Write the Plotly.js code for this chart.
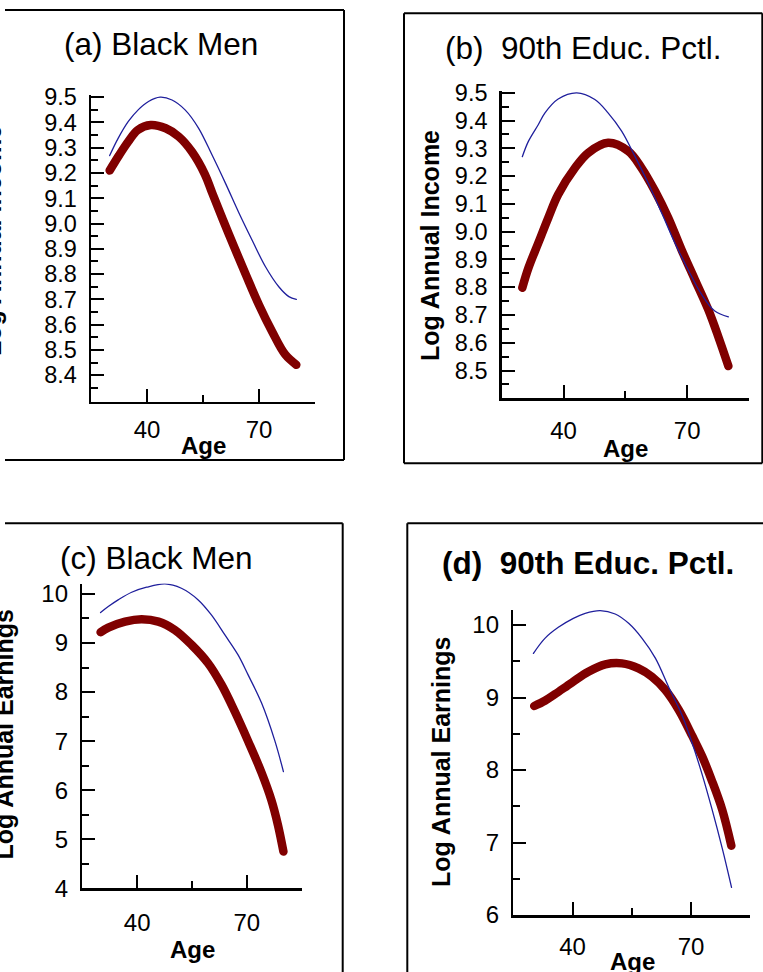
<!DOCTYPE html>
<html><head><meta charset="utf-8">
<script src="https://cdn.plot.ly/plotly-3.0.1.min.js"></script>
<style>
html,body{margin:0;padding:0;background:#fff;}
#chart{width:763px;height:972px;}
.scatterlayer .js-line{stroke-linecap:round !important;stroke-linejoin:round !important;}
</style></head><body><div id="chart"></div><script>
// ---------- data ----------
const ageA_red  = [30, 32.5, 35, 37.5, 41, 45, 48.5, 52, 55.5, 57.5, 62, 66.5, 70, 73.5, 77, 80];
const valA_red  = [9.21, 9.27, 9.325, 9.37, 9.39, 9.377, 9.344, 9.285, 9.195, 9.12, 8.955, 8.797, 8.678, 8.573, 8.482, 8.441];
const ageA_blue = [30, 32.3, 35, 37.7, 40.4, 43.5, 46.7, 50.2, 53.8, 57.4, 61, 64.6, 68.2, 71.7, 75.3, 78, 80];
const valA_blue = [9.269, 9.338, 9.404, 9.451, 9.483, 9.5, 9.489, 9.45, 9.378, 9.272, 9.16, 9.043, 8.933, 8.83, 8.75, 8.711, 8.70];

const ageB_red  = [30, 31.5, 33.9, 36.3, 38.7, 42.8, 46, 50.8, 55.7, 58.9, 62.2, 65.4, 68.6, 71.85, 75.1, 77.5, 80];
const valB_red  = [8.798, 8.87, 8.96, 9.05, 9.134, 9.23, 9.284, 9.32, 9.29, 9.23, 9.146, 9.05, 8.936, 8.828, 8.72, 8.624, 8.516];
const ageB_blue = [30, 31.5, 33.9, 35.5, 38.7, 43.2, 47.6, 50.8, 54.1, 57.3, 60.5, 63.8, 67, 70.2, 73.5, 76.7, 80];
const valB_blue = [9.27, 9.326, 9.386, 9.428, 9.478, 9.5, 9.476, 9.428, 9.362, 9.272, 9.176, 9.068, 8.96, 8.864, 8.774, 8.714, 8.693];

const ageC_red  = [30, 32.1, 36.7, 41.2, 45.8, 50.3, 54.9, 59.4, 63.1, 66.7, 70.4, 74, 76.7, 78.5, 80];
const valC_red  = [9.22, 9.314, 9.436, 9.484, 9.436, 9.266, 8.961, 8.587, 8.145, 7.602, 6.99, 6.36, 5.80, 5.292, 4.75];
const ageC_blue = [30, 32.1, 34.8, 38.5, 42.6, 47.6, 52.1, 56.7, 60.3, 64, 67.6, 70.35, 74, 77.6, 80];
const valC_blue = [9.62, 9.742, 9.878, 10.034, 10.136, 10.204, 10.115, 9.878, 9.572, 9.164, 8.757, 8.349, 7.78, 7.02, 6.379];

const ageD_red  = [30.3, 33, 35.6, 39.8, 44, 48.3, 52.5, 56.7, 60.1, 63.5, 66.9, 70.3, 72.8, 75.3, 77.9, 80.2];
const valD_red  = [8.883, 8.956, 9.048, 9.205, 9.356, 9.457, 9.471, 9.402, 9.287, 9.103, 8.828, 8.47, 8.19, 7.85, 7.45, 6.956];
const ageD_blue = [30.1, 33, 36.4, 40.2, 43.2, 47, 50.8, 54.2, 57.6, 61, 64.3, 67.7, 70.3, 72.8, 75.3, 77.9, 80.25];
const valD_blue = [9.609, 9.816, 9.968, 10.092, 10.161, 10.198, 10.152, 10.023, 9.816, 9.54, 9.149, 8.759, 8.368, 7.94, 7.46, 6.92, 6.382];

const xTickLabels = ['40', '70'];
const xMinorTicks = [25, 55, 85];
const yTickLabelsA = ['9.5','9.4','9.3','9.2','9.1','9.0','8.9','8.8','8.7','8.6','8.5','8.4'];
const yTickLabelsB = ['9.5','9.4','9.3','9.2','9.1','9.0','8.9','8.8','8.7','8.6','8.5'];
const yTickLabelsC = ['10','9','8','7','6','5','4'];
const yTickLabelsD = ['10','9','8','7','6'];

const titles = ['(a) Black Men', '(b)\u00a0 90th Educ. Pctl.', '(c) Black Men', '<b>(d)\u00a0 90th Educ. Pctl.</b>'];
const yTitles = ['Log Annual Income', 'Log Annual Income', 'Log Annual Earnings', 'Log Annual Earnings'];
const xTitle = 'Age';

// ---------- layout helpers ----------
const W = 763, H = 972;
const F = 'Liberation Sans, Arial, Helvetica, sans-serif';
const RED = '#800000', BLUE = '#1f1f9c';
const fx = p => p / W, fy = p => 1 - p / H;

function xAxis(l, r, anchor, standoff) {
  return {
    domain: [fx(l), fx(r)], range: [25, 85], anchor: anchor,
    showline: true, linecolor: '#000', linewidth: 2.5, mirror: false,
    ticks: 'inside', ticklen: 13, tickwidth: 2, tickcolor: '#000',
    tickmode: 'array', tickvals: xTickLabels.map(Number), ticktext: xTickLabels,
    tickfont: {family: F, size: 24, color: '#000'}, ticklabelstandoff: standoff,
    minor: {tickmode: 'array', tickvals: xMinorTicks, ticks: 'inside', ticklen: 7, tickwidth: 2, tickcolor: '#000'},
    showgrid: false, zeroline: false, fixedrange: true
  };
}
function yAxis(top, bottom, range, labels, half, anchor, fs, standoff) {
  const vals = labels.map(Number);
  const minor = vals.map(v => +(v - half).toFixed(3)).filter(v => v > range[0]);
  return {
    domain: [fy(bottom), fy(top)], range: range, anchor: anchor,
    showline: true, linecolor: '#000', linewidth: 2.5, mirror: false,
    ticks: 'inside', ticklen: 13, tickwidth: 2, tickcolor: '#000',
    tickmode: 'array', tickvals: vals, ticktext: labels,
    tickfont: {family: F, size: fs, color: '#000'}, ticklabelstandoff: standoff,
    minor: {tickmode: 'array', tickvals: minor, ticks: 'inside', ticklen: 7, tickwidth: 2, tickcolor: '#000'},
    showgrid: false, zeroline: false, fixedrange: true
  };
}
function line(x, y, color, width, xa, ya) {
  return {x: x, y: y, type: 'scatter', mode: 'lines', xaxis: xa, yaxis: ya, hoverinfo: 'skip',
          line: {color: color, width: width, shape: 'spline', smoothing: 1}};
}

const data = [
  line(ageA_red, valA_red, RED, 8.5, 'x', 'y'),
  line(ageA_blue, valA_blue, BLUE, 1.3, 'x', 'y'),
  line(ageB_red, valB_red, RED, 8.5, 'x2', 'y2'),
  line(ageB_blue, valB_blue, BLUE, 1.3, 'x2', 'y2'),
  line(ageC_red, valC_red, RED, 8.5, 'x3', 'y3'),
  line(ageC_blue, valC_blue, BLUE, 1.3, 'x3', 'y3'),
  line(ageD_red, valD_red, RED, 8.5, 'x4', 'y4'),
  line(ageD_blue, valD_blue, BLUE, 1.3, 'x4', 'y4')
];

function ann(text, x, y, size, angle) {
  return {text: text, xref: 'paper', yref: 'paper', x: fx(x), y: fy(y), xanchor: 'center', yanchor: 'middle',
          showarrow: false, textangle: angle || 0, font: {family: F, size: size, color: '#000'}};
}
function seg(x0, y0, x1, y1) {
  return {type: 'line', xref: 'paper', yref: 'paper', x0: fx(x0), y0: fy(y0), x1: fx(x1), y1: fy(y1),
          line: {color: '#000', width: 2}};
}

const layout = {
  width: W, height: H, margin: {l: 0, r: 0, t: 0, b: 0},
  paper_bgcolor: '#fff', plot_bgcolor: 'rgba(0,0,0,0)', showlegend: false,
  font: {family: F, color: '#000'},
  xaxis:  xAxis(91, 315, 'y', 5),
  yaxis:  yAxis(95.2, 401.7, [8.295, 9.508], yTickLabelsA, 0.05, 'x', 23.5, 7),
  xaxis2: xAxis(501.7, 749, 'y2', 9),
  yaxis2: yAxis(90.6, 398.3, [8.4, 9.508], yTickLabelsB, 0.05, 'x2', 23.5, 7),
  xaxis3: xAxis(82.3, 301.7, 'y3', 11),
  yaxis3: yAxis(583.6, 888.3, [4, 10.21], yTickLabelsC, 0.5, 'x3', 24, 7),
  xaxis4: xAxis(513.3, 750.3, 'y4', 9),
  yaxis4: yAxis(609.8, 915, [6, 10.21], yTickLabelsD, 0.5, 'x4', 24, 7),
  annotations: [
    ann(titles[0], 161, 44, 31.5),
    ann(titles[1], 583.3, 48.3, 31.5),
    ann(titles[2], 156.3, 557.5, 31.5),
    ann(titles[3], 587.5, 562.8, 31.5),
    ann('<b>' + yTitles[0] + '</b>', -8, 241, 25, -90),
    ann('<b>' + yTitles[1] + '</b>', 430, 246, 25, -90),
    ann('<b>' + yTitles[2] + '</b>', 3.5, 735, 25, -90),
    ann('<b>' + yTitles[3] + '</b>', 441, 762, 25, -90),
    ann('<b>' + xTitle + '</b>', 203, 446, 24),
    ann('<b>' + xTitle + '</b>', 625.5, 448, 24),
    ann('<b>' + xTitle + '</b>', 192.5, 949, 24),
    ann('<b>' + xTitle + '</b>', 632, 961, 24)
  ],
  shapes: [
    seg(5, 10, 344, 10), seg(344, 10, 344, 460), seg(5, 460, 344, 460),
    seg(404, 13.3, 762.3, 13.3), seg(762.3, 13.3, 762.3, 463.3), seg(762.3, 463.3, 404, 463.3), seg(404, 463.3, 404, 13.3),
    seg(5, 523.3, 342.7, 523.3), seg(342.7, 523.3, 342.7, 972),
    seg(407.3, 523.3, 407.3, 972), seg(407.3, 523.3, 763, 523.3)
  ]
};

Plotly.newPlot('chart', data, layout, {staticPlot: true, displayModeBar: false});
</script></body></html>
